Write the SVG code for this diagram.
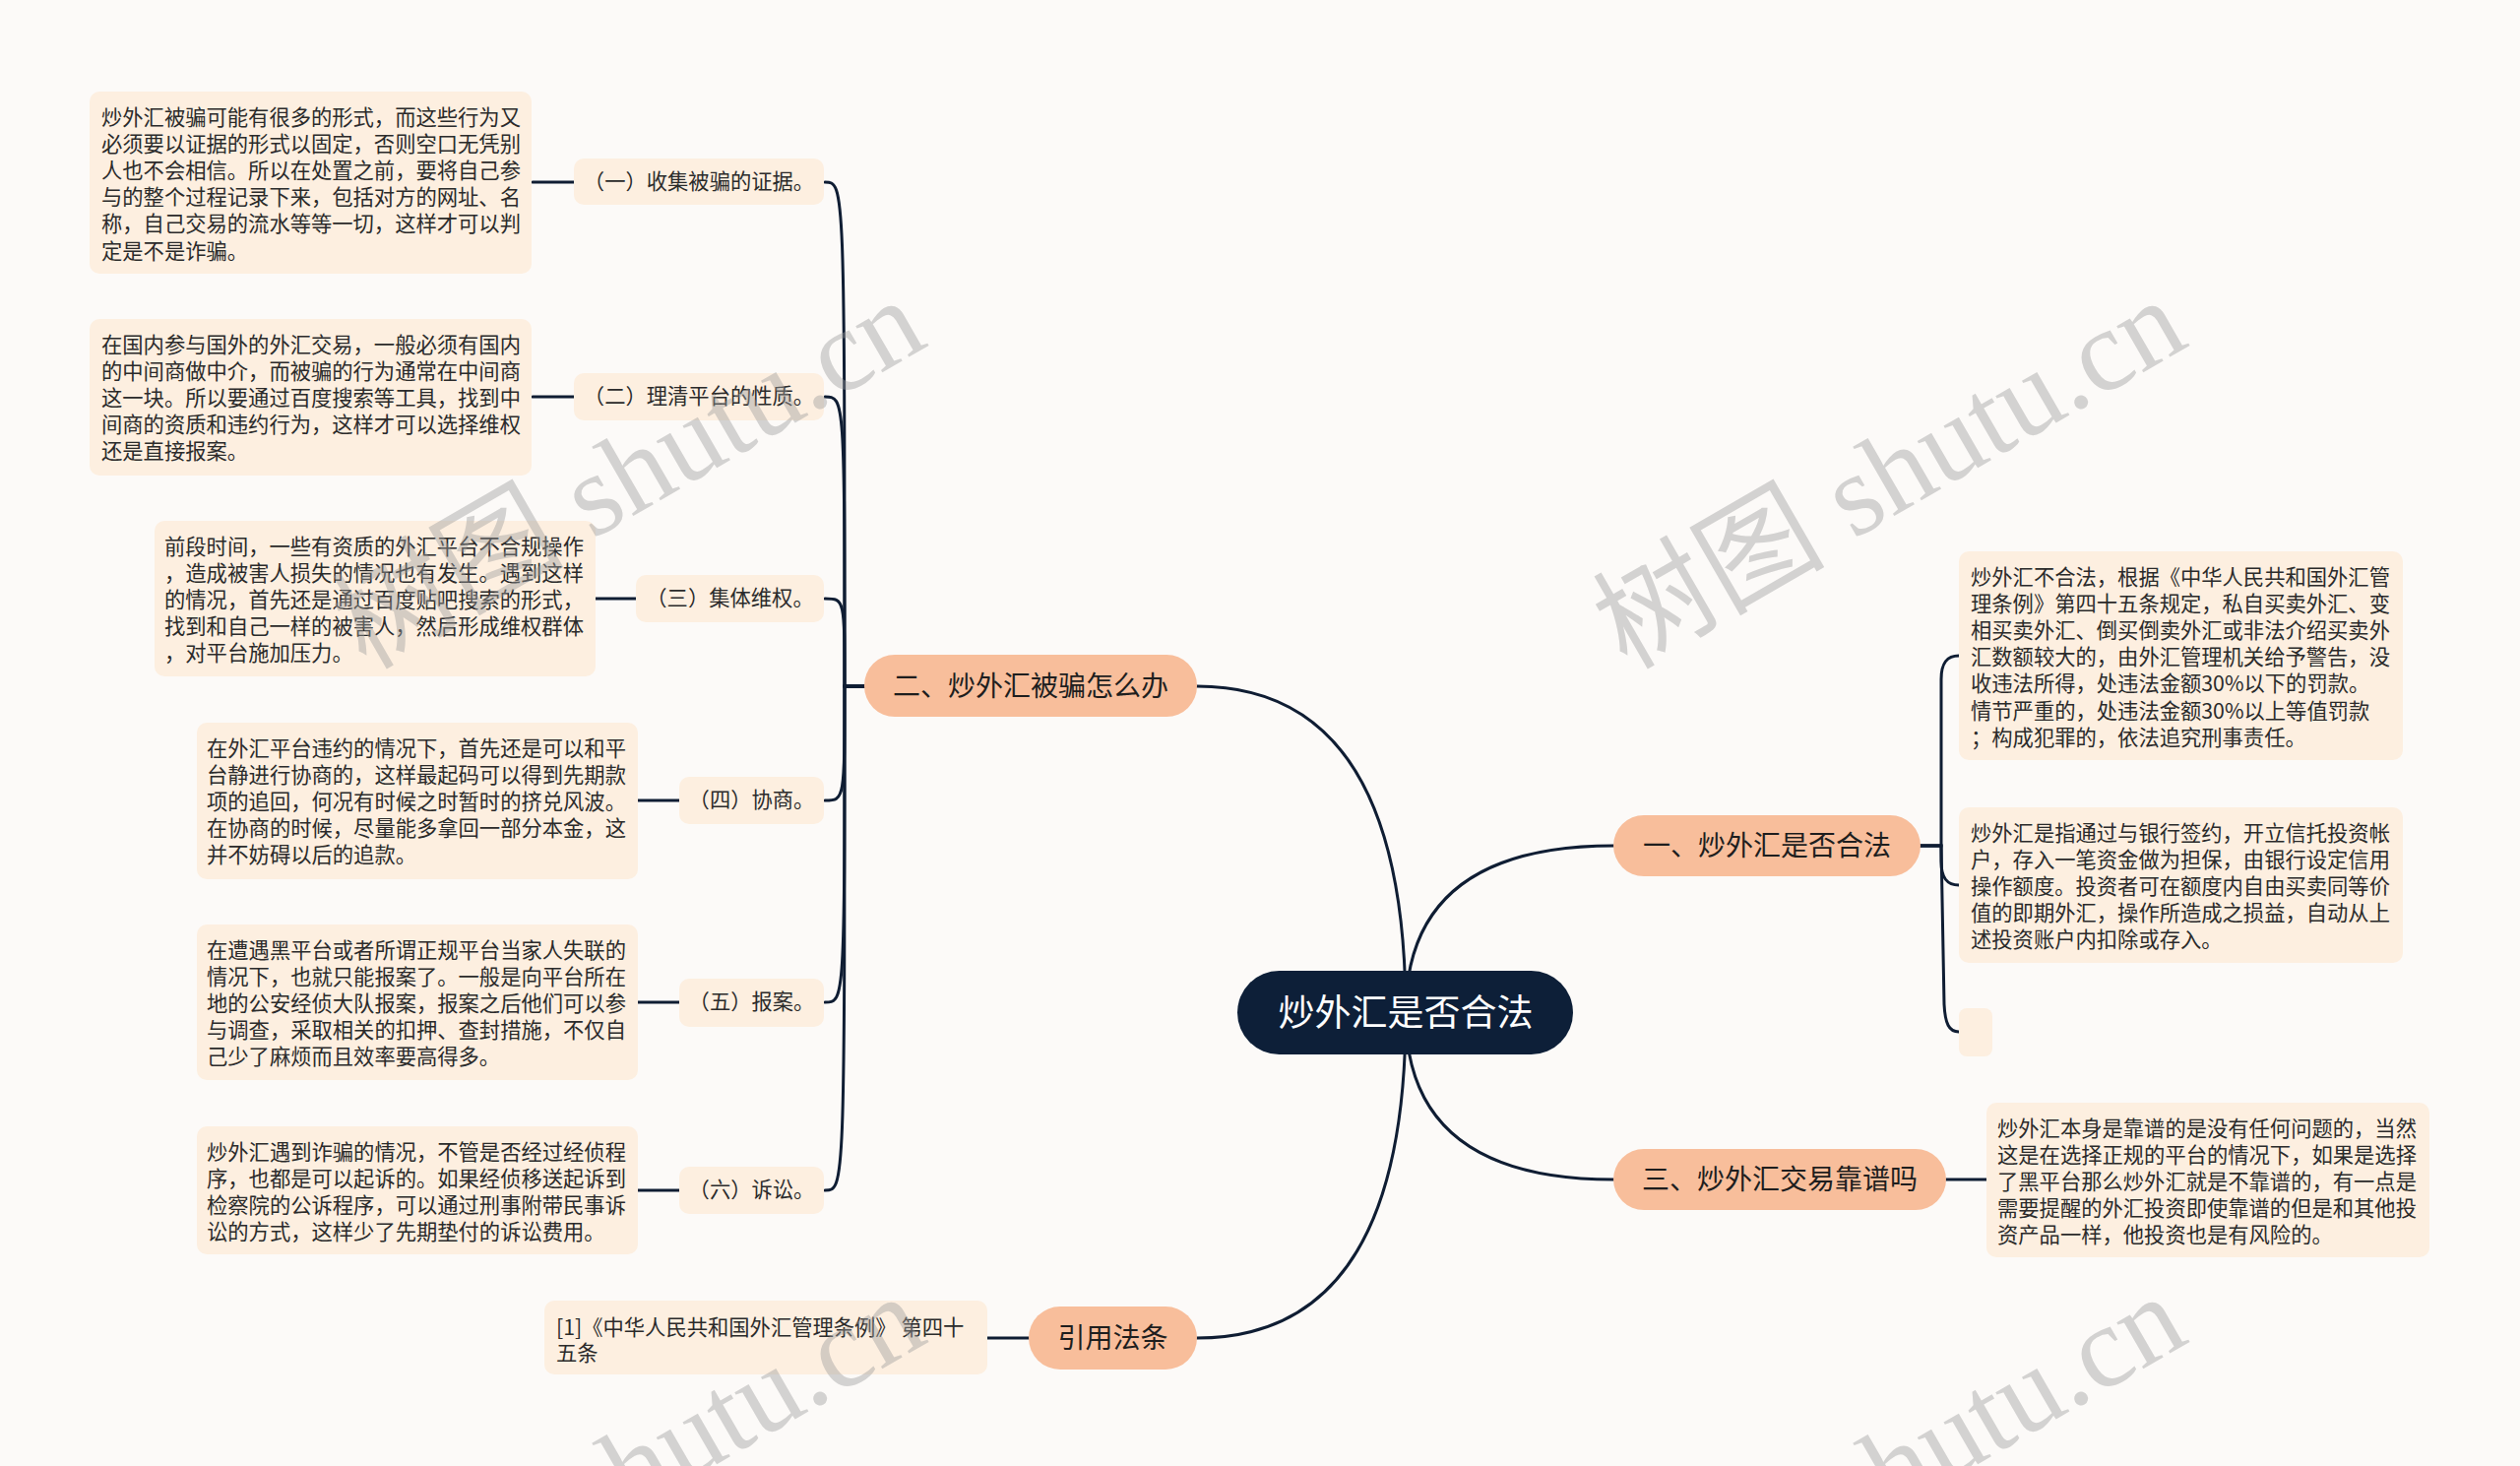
<svg xmlns="http://www.w3.org/2000/svg" width="2560" height="1489" viewBox="0 0 2560 1489">
<style>
.bg{fill:#FCFAF8}
.box{fill:#FDEFE0}
.br{fill:#F8BE9B}
.root{fill:#0D1F38}
.ln{fill:none;stroke:#0F1D33;stroke-width:3;stroke-linecap:round}
.t{font-family:"Noto Sans CJK SC","Noto Sans",sans-serif;font-size:21.3px;fill:#2B2B2B}
.s{font-family:"Noto Sans CJK SC","Noto Sans",sans-serif;font-size:21.3px;fill:#2B2B2B;text-anchor:middle}
.b{font-family:"Noto Sans CJK SC","Noto Sans",sans-serif;font-size:28px;fill:#1E1E1E;text-anchor:middle}
.r{font-family:"Noto Sans CJK SC","Noto Sans",sans-serif;font-size:37px;fill:#FFFFFF;text-anchor:middle}
.wm{font-family:"Liberation Serif","Noto Sans CJK SC",serif;font-size:118px;fill:#9A9A9A;fill-opacity:0.42;text-anchor:end}
</style>
<rect class="bg" x="0" y="0" width="2560" height="1489"/>

<g id="connectors">
<path class="ln" d="M1428,1029 Q1428,859 1639,859"/>
<path class="ln" d="M1428,1029 Q1428,697 1216,697"/>
<path class="ln" d="M1428,1029 Q1428,1198 1639,1198"/>
<path class="ln" d="M1428,1029 Q1428,1359 1216,1359"/>
<path class="ln" d="M878,697 L858,697 C858,185 858,185 838,185"/>
<path class="ln" d="M878,697 L858,697 C858,403 858,403 838,403"/>
<path class="ln" d="M878,697 L858,697 C858,608 858,608 838,608"/>
<path class="ln" d="M878,697 L858,697 C858,813 858,813 838,813"/>
<path class="ln" d="M878,697 L858,697 C858,1018 858,1018 838,1018"/>
<path class="ln" d="M878,697 L858,697 C858,1209 858,1209 838,1209"/>
<path class="ln" d="M583,185 L541,185"/>
<path class="ln" d="M583,403 L541,403"/>
<path class="ln" d="M646,608 L605,608"/>
<path class="ln" d="M690,813 L648,813"/>
<path class="ln" d="M690,1018 L648,1018"/>
<path class="ln" d="M690,1209 L648,1209"/>
<path class="ln" d="M1951,859 L1972,859 L1972,690 C1972,673 1978,666 1990,666"/>
<path class="ln" d="M1951,859 L1972,859 L1972,875 C1972,892 1978,899 1990,899"/>
<path class="ln" d="M1951,859 L1972,859 L1975,1020 C1976,1040 1980,1048 1990,1048"/>
<path class="ln" d="M1977,1198 L2018,1198"/>
<path class="ln" d="M1045,1359 L1003,1359"/>
</g>

<g id="root">
<rect class="root" x="1257" y="986" width="341" height="85" rx="42.5"/>
<text class="r" x="1428" y="1042">炒外汇是否合法</text>
</g>

<g id="branch1">
<rect class="br" x="1639" y="828" width="312" height="62" rx="31"/>
<text class="b" x="1795" y="869">一、炒外汇是否合法</text>
</g>
<g id="branch2">
<rect class="br" x="878" y="665" width="338" height="63" rx="31"/>
<text class="b" x="1047" y="707">二、炒外汇被骗怎么办</text>
</g>
<g id="branch3">
<rect class="br" x="1639" y="1167" width="338" height="62" rx="31"/>
<text class="b" x="1808" y="1208">三、炒外汇交易靠谱吗</text>
</g>
<g id="branch4">
<rect class="br" x="1045" y="1327" width="171" height="64" rx="32"/>
<text class="b" x="1130.5" y="1369">引用法条</text>
</g>

<g id="sub1">
<rect class="box" x="583" y="161" width="254" height="47" rx="10"/>
<text class="s" x="710" y="192">（一）收集被骗的证据。</text>
</g>
<g id="sub2">
<rect class="box" x="583" y="379" width="254" height="48" rx="10"/>
<text class="s" x="710" y="410">（二）理清平台的性质。</text>
</g>
<g id="sub3">
<rect class="box" x="646" y="584" width="191" height="48" rx="10"/>
<text class="s" x="741.5" y="615">（三）集体维权。</text>
</g>
<g id="sub4">
<rect class="box" x="690" y="789" width="147" height="48" rx="10"/>
<text class="s" x="763.5" y="820">（四）协商。</text>
</g>
<g id="sub5">
<rect class="box" x="690" y="994" width="147" height="49" rx="10"/>
<text class="s" x="763.5" y="1025">（五）报案。</text>
</g>
<g id="sub6">
<rect class="box" x="690" y="1185" width="147" height="48" rx="10"/>
<text class="s" x="763.5" y="1216">（六）诉讼。</text>
</g>

<g id="textA">
<rect class="box" x="91" y="93" width="449" height="185" rx="10"/>
<text class="t">
<tspan x="103" y="127">炒外汇被骗可能有很多的形式，而这些行为又</tspan>
<tspan x="103" y="154.1">必须要以证据的形式以固定，否则空口无凭别</tspan>
<tspan x="103" y="181.2">人也不会相信。所以在处置之前，要将自己参</tspan>
<tspan x="103" y="208.3">与的整个过程记录下来，包括对方的网址、名</tspan>
<tspan x="103" y="235.4">称，自己交易的流水等等一切，这样才可以判</tspan>
<tspan x="103" y="262.5">定是不是诈骗。</tspan>
</text>
</g>
<g id="textB">
<rect class="box" x="91" y="324" width="449" height="159" rx="10"/>
<text class="t">
<tspan x="103" y="358">在国内参与国外的外汇交易，一般必须有国内</tspan>
<tspan x="103" y="385.1">的中间商做中介，而被骗的行为通常在中间商</tspan>
<tspan x="103" y="412.2">这一块。所以要通过百度搜索等工具，找到中</tspan>
<tspan x="103" y="439.3">间商的资质和违约行为，这样才可以选择维权</tspan>
<tspan x="103" y="466.4">还是直接报案。</tspan>
</text>
</g>
<g id="textC">
<rect class="box" x="157" y="529" width="448" height="158" rx="10"/>
<text class="t">
<tspan x="167" y="563">前段时间，一些有资质的外汇平台不合规操作</tspan>
<tspan x="167" y="590.1">，造成被害人损失的情况也有发生。遇到这样</tspan>
<tspan x="167" y="617.2">的情况，首先还是通过百度贴吧搜索的形式，</tspan>
<tspan x="167" y="644.3">找到和自己一样的被害人，然后形成维权群体</tspan>
<tspan x="167" y="671.4">，对平台施加压力。</tspan>
</text>
</g>
<g id="textD">
<rect class="box" x="200" y="734" width="448" height="159" rx="10"/>
<text class="t">
<tspan x="210" y="768">在外汇平台违约的情况下，首先还是可以和平</tspan>
<tspan x="210" y="795.1">台静进行协商的，这样最起码可以得到先期款</tspan>
<tspan x="210" y="822.2">项的追回，何况有时候之时暂时的挤兑风波。</tspan>
<tspan x="210" y="849.3">在协商的时候，尽量能多拿回一部分本金，这</tspan>
<tspan x="210" y="876.4">并不妨碍以后的追款。</tspan>
</text>
</g>
<g id="textE">
<rect class="box" x="200" y="939" width="448" height="158" rx="10"/>
<text class="t">
<tspan x="210" y="973">在遭遇黑平台或者所谓正规平台当家人失联的</tspan>
<tspan x="210" y="1000.1">情况下，也就只能报案了。一般是向平台所在</tspan>
<tspan x="210" y="1027.2">地的公安经侦大队报案，报案之后他们可以参</tspan>
<tspan x="210" y="1054.3">与调查，采取相关的扣押、查封措施，不仅自</tspan>
<tspan x="210" y="1081.4">己少了麻烦而且效率要高得多。</tspan>
</text>
</g>
<g id="textF">
<rect class="box" x="200" y="1144" width="448" height="130" rx="10"/>
<text class="t">
<tspan x="210" y="1178">炒外汇遇到诈骗的情况，不管是否经过经侦程</tspan>
<tspan x="210" y="1205.1">序，也都是可以起诉的。如果经侦移送起诉到</tspan>
<tspan x="210" y="1232.2">检察院的公诉程序，可以通过刑事附带民事诉</tspan>
<tspan x="210" y="1259.3">讼的方式，这样少了先期垫付的诉讼费用。</tspan>
</text>
</g>
<g id="textCite">
<rect class="box" x="553" y="1321" width="450" height="75" rx="10"/>
<text class="t">
<tspan x="565" y="1356">[1]《中华人民共和国外汇管理条例》 第四十</tspan>
<tspan x="565" y="1382">五条</tspan>
</text>
</g>

<g id="textR1">
<rect class="box" x="1990" y="560" width="451" height="212" rx="10"/>
<text class="t">
<tspan x="2002" y="594">炒外汇不合法，根据《中华人民共和国外汇管</tspan>
<tspan x="2002" y="621.1">理条例》第四十五条规定，私自买卖外汇、变</tspan>
<tspan x="2002" y="648.2">相买卖外汇、倒买倒卖外汇或非法介绍买卖外</tspan>
<tspan x="2002" y="675.3">汇数额较大的，由外汇管理机关给予警告，没</tspan>
<tspan x="2002" y="702.4">收违法所得，处违法金额30%以下的罚款。</tspan>
<tspan x="2002" y="729.5">情节严重的，处违法金额30%以上等值罚款</tspan>
<tspan x="2002" y="756.6">；构成犯罪的，依法追究刑事责任。</tspan>
</text>
</g>
<g id="textR2">
<rect class="box" x="1990" y="820" width="451" height="158" rx="10"/>
<text class="t">
<tspan x="2002" y="854">炒外汇是指通过与银行签约，开立信托投资帐</tspan>
<tspan x="2002" y="881.1">户，存入一笔资金做为担保，由银行设定信用</tspan>
<tspan x="2002" y="908.2">操作额度。投资者可在额度内自由买卖同等价</tspan>
<tspan x="2002" y="935.3">值的即期外汇，操作所造成之损益，自动从上</tspan>
<tspan x="2002" y="962.4">述投资账户内扣除或存入。</tspan>
</text>
</g>
<g id="emptyNode">
<rect class="box" x="1990" y="1024" width="34" height="49" rx="8"/>
</g>
<g id="textR3">
<rect class="box" x="2018" y="1120" width="450" height="157" rx="10"/>
<text class="t">
<tspan x="2029" y="1154">炒外汇本身是靠谱的是没有任何问题的，当然</tspan>
<tspan x="2029" y="1181.1">这是在选择正规的平台的情况下，如果是选择</tspan>
<tspan x="2029" y="1208.2">了黑平台那么炒外汇就是不靠谱的，有一点是</tspan>
<tspan x="2029" y="1235.3">需要提醒的外汇投资即使靠谱的但是和其他投</tspan>
<tspan x="2029" y="1262.4">资产品一样，他投资也是有风险的。</tspan>
</text>
</g>

<g id="watermarks">
<text class="wm" transform="translate(945,350) rotate(-30)">树图 shutu.cn</text>
<text class="wm" transform="translate(2226,350) rotate(-30)">树图 shutu.cn</text>
<text class="wm" transform="translate(945,1362) rotate(-30)">树图 shutu.cn</text>
<text class="wm" transform="translate(2226,1362) rotate(-30)">树图 shutu.cn</text>
</g>
</svg>
